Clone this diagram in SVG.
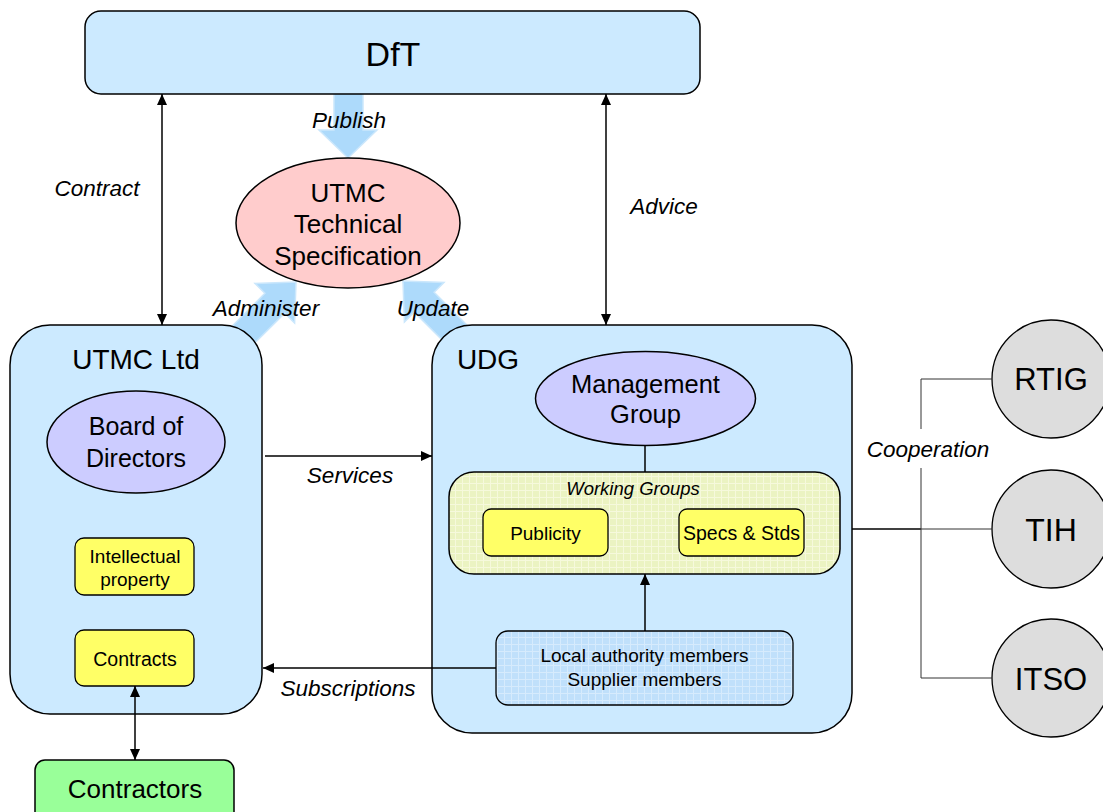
<svg xmlns="http://www.w3.org/2000/svg" width="1103" height="812" viewBox="0 0 1103 812">
<style>
text{font-family:"Liberation Sans",Arial,sans-serif;fill:#000;text-anchor:middle}
.lbl{font-style:italic;font-size:22.5px}
.box{fill:#cceaff;stroke:#000;stroke-width:1.5}
.yel{fill:#ffff66;stroke:#000;stroke-width:1.3}
.blk{fill:#addafb;stroke:#cbe7fc;stroke-width:1.5}
.ln{stroke:#000;stroke-width:1.5;fill:none}
.gl{stroke:#333;stroke-width:1;fill:none}
.circ{fill:#dddddd;stroke:#000;stroke-width:1.3}
</style>
<defs>
<marker id="ah" markerUnits="userSpaceOnUse" markerWidth="12" markerHeight="10" refX="11" refY="5" orient="auto-start-reverse">
<path d="M0,0 L11,5 L0,10 z" fill="#000"/>
</marker>
<pattern id="wg" width="7" height="7" patternUnits="userSpaceOnUse">
<rect width="7" height="7" fill="#ebf3c2"/>
<path d="M0,0.5 H7 M0.5,0 V7" stroke="#f6f9dc" stroke-width="1"/>
</pattern>
<pattern id="la" width="7" height="7" patternUnits="userSpaceOnUse">
<rect width="7" height="7" fill="#c0e0fb"/>
<path d="M0,0.5 H7 M0.5,0 V7" stroke="#d6ebfd" stroke-width="1"/>
</pattern>
</defs>

<g id="block-arrows">
<polygon class="blk" points="334,80 363,80 363,130 377,130 348,158 319,130 334,130"/>
<polygon class="blk" points="228.1,369.7 284.7,313.1 294.6,323 296,282 255,283.4 264.9,293.3 208.3,349.9"/>
<polygon class="blk" points="490.7,348.9 434.1,292.3 444,282.4 403,281 404.4,322 414.3,312.1 470.9,368.7"/>
</g>

<g id="dft">
<rect class="box" x="85" y="11" width="615" height="83" rx="16"/>
<text x="393" y="66" font-size="34">DfT</text>
</g>

<g id="spec">
<ellipse cx="348" cy="223" rx="112" ry="65" fill="#ffcccc" stroke="#000" stroke-width="1.5"/>
<text x="348" y="202" font-size="26">UTMC</text>
<text x="348" y="233" font-size="26">Technical</text>
<text x="348" y="265" font-size="26">Specification</text>
</g>

<g id="utmc-ltd">
<rect class="box" x="10" y="325" width="252" height="389" rx="40"/>
<text x="136" y="369" font-size="28">UTMC Ltd</text>
</g>

<g id="board">
<ellipse cx="136" cy="442" rx="89" ry="51" fill="#ccccff" stroke="#000" stroke-width="1.5"/>
<text x="136" y="435" font-size="25">Board of</text>
<text x="136" y="467" font-size="25">Directors</text>
</g>

<g id="ip">
<rect class="yel" x="75" y="538" width="119" height="57" rx="9"/>
<text x="135" y="563" font-size="19">Intellectual</text>
<text x="135" y="586" font-size="19">property</text>
</g>

<g id="contracts">
<rect class="yel" x="75" y="630" width="119" height="56" rx="9"/>
<text x="135" y="666" font-size="19.5">Contracts</text>
</g>

<g id="contractors">
<rect x="35" y="760" width="199" height="70" rx="10" fill="#99ff99" stroke="#000" stroke-width="1.5"/>
<text x="135" y="798" font-size="26">Contractors</text>
</g>

<g id="udg">
<rect class="box" x="432" y="325" width="420" height="408" rx="40"/>
<text x="488" y="369" font-size="28">UDG</text>
</g>

<g id="mgmt">
<ellipse cx="645.5" cy="398.5" rx="110" ry="47" fill="#ccccff" stroke="#000" stroke-width="1.5"/>
<text x="645.5" y="393" font-size="25.5">Management</text>
<text x="645.5" y="423" font-size="25.5">Group</text>
</g>

<g id="working-groups">
<rect x="449" y="472" width="391" height="102" rx="25" fill="url(#wg)" stroke="#000" stroke-width="1.5"/>
<text x="633" y="495" font-size="18.5" font-style="italic">Working Groups</text>
</g>

<g id="publicity">
<rect class="yel" x="483" y="509" width="125" height="47" rx="8"/>
<text x="545.5" y="540" font-size="19">Publicity</text>
</g>

<g id="specs">
<rect class="yel" x="679" y="509" width="125" height="47" rx="8"/>
<text x="741.5" y="540" font-size="19.5">Specs &amp; Stds</text>
</g>

<g id="members">
<rect x="496" y="631" width="297" height="74" rx="12" fill="url(#la)" stroke="#000" stroke-width="1.3"/>
<text x="644.5" y="662" font-size="19">Local authority members</text>
<text x="644.5" y="686" font-size="19">Supplier members</text>
</g>

<g id="rtig">
<circle class="circ" cx="1051" cy="379" r="59"/>
<text x="1051" y="390" font-size="31">RTIG</text>
</g>
<g id="tih">
<circle class="circ" cx="1051" cy="529" r="59"/>
<text x="1051" y="541" font-size="32">TIH</text>
</g>
<g id="itso">
<circle class="circ" cx="1051" cy="678" r="59"/>
<text x="1051" y="690" font-size="31">ITSO</text>
</g>

<g id="connectors">
<line class="ln" x1="162" y1="94" x2="162" y2="325" marker-start="url(#ah)" marker-end="url(#ah)"/>
<line class="ln" x1="606" y1="94" x2="606" y2="325" marker-start="url(#ah)" marker-end="url(#ah)"/>
<line class="ln" x1="265" y1="456" x2="432" y2="456" marker-end="url(#ah)"/>
<line class="ln" x1="496" y1="668" x2="263" y2="668" marker-end="url(#ah)"/>
<line class="ln" x1="645" y1="446" x2="645" y2="472"/>
<line class="ln" x1="645" y1="631" x2="645" y2="574" marker-end="url(#ah)"/>
<line class="ln" x1="135" y1="686" x2="135" y2="760" marker-start="url(#ah)" marker-end="url(#ah)"/>
<line class="ln" x1="852" y1="529" x2="921" y2="529"/>
<path class="gl" d="M992,379 H921 V429 M921,468 V678 H992 M921,529 H992"/>
</g>

<g id="labels">
<text class="lbl" x="97" y="196">Contract</text>
<text class="lbl" x="349" y="128">Publish</text>
<text class="lbl" x="266" y="316">Administer</text>
<text class="lbl" x="433" y="316">Update</text>
<text class="lbl" x="664" y="214">Advice</text>
<text class="lbl" x="350" y="483">Services</text>
<text class="lbl" x="348" y="696">Subscriptions</text>
<text class="lbl" x="928" y="457">Cooperation</text>
</g>
</svg>
